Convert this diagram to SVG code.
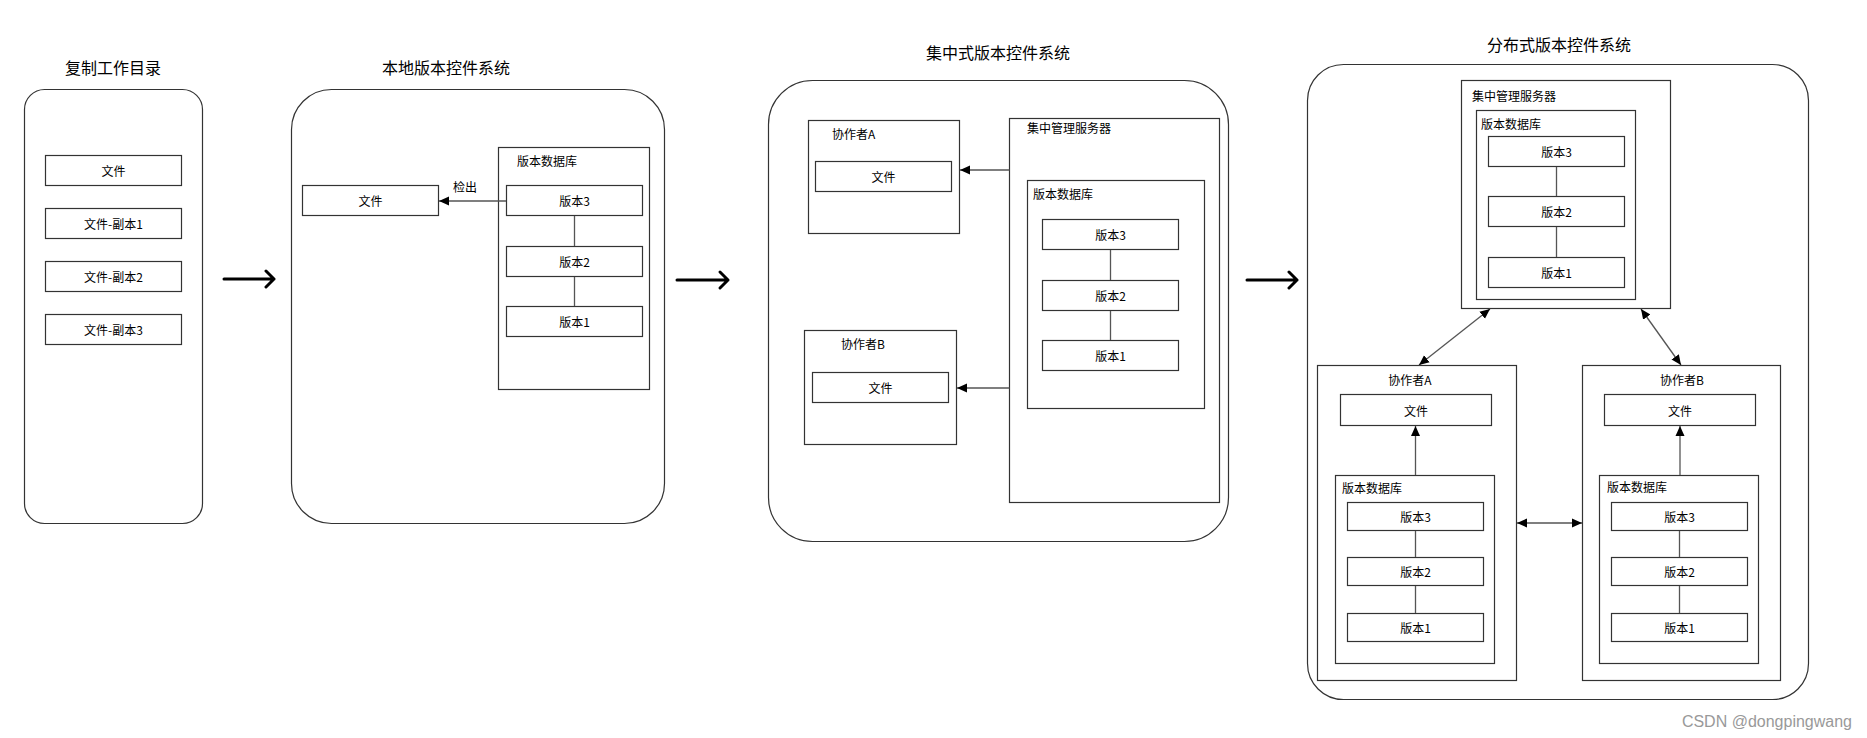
<svg xmlns="http://www.w3.org/2000/svg" width="1867" height="738" viewBox="0 0 1867 738">
<style>
text{font-family:"Noto Sans CJK SC","Liberation Sans",sans-serif;fill:#000}
.t{font-size:16px;text-anchor:middle;dominant-baseline:central}
.l{font-size:12px;text-anchor:middle;dominant-baseline:central}
.s{font-size:12px;dominant-baseline:central}
.panel{fill:#fff;stroke:#333;stroke-width:1.2}
.box{fill:#fff;stroke:#333;stroke-width:1.2}
.ln{stroke:#555;stroke-width:1.3;fill:none}
.big{stroke:#000;stroke-width:3;fill:none;stroke-linecap:round;stroke-linejoin:round}
</style>
<defs>
<marker id="ah" viewBox="0 0 10 10" refX="10" refY="5" markerWidth="10" markerHeight="10" markerUnits="userSpaceOnUse" orient="auto-start-reverse">
<path d="M0,0.5 L10,5 L0,9.5 Z" fill="#000"/>
</marker>
</defs>
<rect width="1867" height="738" fill="#fff"/>

<g id="panel1">
<text class="t" x="113" y="67">复制工作目录</text>
<rect class="panel" x="24.5" y="89.5" width="178" height="434" rx="20"/>
<g id="p1-file"><rect class="box" x="45.5" y="155.5" width="136" height="30"/><text class="l" x="113.5" y="170.5">文件</text></g>
<g id="p1-copy1"><rect class="box" x="45.5" y="208.5" width="136" height="30"/><text class="l" x="113.5" y="223.5">文件-副本1</text></g>
<g id="p1-copy2"><rect class="box" x="45.5" y="261.5" width="136" height="30"/><text class="l" x="113.5" y="276.5">文件-副本2</text></g>
<g id="p1-copy3"><rect class="box" x="45.5" y="314.5" width="136" height="30"/><text class="l" x="113.5" y="329.5">文件-副本3</text></g>
</g>

<g id="panel2">
<text class="t" x="446" y="67">本地版本控件系统</text>
<rect class="panel" x="291.5" y="89.5" width="373" height="434" rx="40"/>
<g id="p2-file"><rect class="box" x="302.5" y="185.5" width="136" height="30"/><text class="l" x="370.5" y="200.5">文件</text></g>
<g id="p2-db"><rect class="box" x="498.5" y="147.5" width="151" height="242"/><text class="s" x="517" y="160">版本数据库</text></g>
<g id="p2-v3"><rect class="box" x="506.5" y="185.5" width="136" height="30"/><text class="l" x="574.5" y="200.5">版本3</text></g>
<g id="p2-v2"><rect class="box" x="506.5" y="246.5" width="136" height="30"/><text class="l" x="574.5" y="261.5">版本2</text></g>
<g id="p2-v1"><rect class="box" x="506.5" y="306.5" width="136" height="30"/><text class="l" x="574.5" y="321.5">版本1</text></g>
</g>

<g id="panel3">
<text class="t" x="998" y="52">集中式版本控件系统</text>
<rect class="panel" x="768.5" y="80.5" width="460" height="461" rx="44"/>
<g id="p3-a"><rect class="box" x="808.5" y="120.5" width="151" height="113"/><text class="s" x="832" y="133">协作者A</text></g>
<g id="p3-a-file"><rect class="box" x="815.5" y="161.5" width="136" height="30"/><text class="l" x="883.5" y="176.5">文件</text></g>
<g id="p3-b"><rect class="box" x="804.5" y="330.5" width="152" height="114"/><text class="s" x="841" y="343">协作者B</text></g>
<g id="p3-b-file"><rect class="box" x="812.5" y="372.5" width="136" height="30"/><text class="l" x="880.5" y="387.5">文件</text></g>
<g id="p3-server"><rect class="box" x="1009.5" y="118.5" width="210" height="384"/><text class="s" x="1027" y="127">集中管理服务器</text></g>
<g id="p3-db"><rect class="box" x="1027.5" y="180.5" width="177" height="228"/><text class="s" x="1033" y="193">版本数据库</text></g>
<g id="p3-v3"><rect class="box" x="1042.5" y="219.5" width="136" height="30"/><text class="l" x="1110.5" y="234.5">版本3</text></g>
<g id="p3-v2"><rect class="box" x="1042.5" y="280.5" width="136" height="30"/><text class="l" x="1110.5" y="295.5">版本2</text></g>
<g id="p3-v1"><rect class="box" x="1042.5" y="340.5" width="136" height="30"/><text class="l" x="1110.5" y="355.5">版本1</text></g>
</g>

<g id="panel4">
<text class="t" x="1559" y="44">分布式版本控件系统</text>
<rect class="panel" x="1307.5" y="64.5" width="501" height="635" rx="36"/>
<g id="p4-server"><rect class="box" x="1461.5" y="80.5" width="209" height="228"/><text class="s" x="1472" y="95">集中管理服务器</text></g>
<g id="p4-db"><rect class="box" x="1476.5" y="110.5" width="159" height="189"/><text class="s" x="1481" y="123">版本数据库</text></g>
<g id="p4-v3"><rect class="box" x="1488.5" y="136.5" width="136" height="30"/><text class="l" x="1556.5" y="151.5">版本3</text></g>
<g id="p4-v2"><rect class="box" x="1488.5" y="196.5" width="136" height="30"/><text class="l" x="1556.5" y="211.5">版本2</text></g>
<g id="p4-v1"><rect class="box" x="1488.5" y="257.5" width="136" height="30"/><text class="l" x="1556.5" y="272.5">版本1</text></g>

<g id="p4-a"><rect class="box" x="1317.5" y="365.5" width="199" height="315"/><text class="l" x="1410" y="379">协作者A</text></g>
<g id="p4-a-file"><rect class="box" x="1340.5" y="394.5" width="151" height="31"/><text class="l" x="1416" y="410">文件</text></g>
<g id="p4-a-db"><rect class="box" x="1335.5" y="475.5" width="159" height="188"/><text class="s" x="1342" y="487">版本数据库</text></g>
<g id="p4-a-v3"><rect class="box" x="1347.5" y="502.5" width="136" height="28"/><text class="l" x="1415.5" y="516.5">版本3</text></g>
<g id="p4-a-v2"><rect class="box" x="1347.5" y="557.5" width="136" height="28"/><text class="l" x="1415.5" y="571.5">版本2</text></g>
<g id="p4-a-v1"><rect class="box" x="1347.5" y="613.5" width="136" height="28"/><text class="l" x="1415.5" y="627.5">版本1</text></g>

<g id="p4-b"><rect class="box" x="1582.5" y="365.5" width="198" height="315"/><text class="l" x="1682" y="379">协作者B</text></g>
<g id="p4-b-file"><rect class="box" x="1604.5" y="394.5" width="151" height="31"/><text class="l" x="1680" y="410">文件</text></g>
<g id="p4-b-db"><rect class="box" x="1599.5" y="475.5" width="159" height="188"/><text class="s" x="1607" y="486">版本数据库</text></g>
<g id="p4-b-v3"><rect class="box" x="1611.5" y="502.5" width="136" height="28"/><text class="l" x="1679.5" y="516.5">版本3</text></g>
<g id="p4-b-v2"><rect class="box" x="1611.5" y="557.5" width="136" height="28"/><text class="l" x="1679.5" y="571.5">版本2</text></g>
<g id="p4-b-v1"><rect class="box" x="1611.5" y="613.5" width="136" height="28"/><text class="l" x="1679.5" y="627.5">版本1</text></g>
</g>

<g id="connectors">
<path class="big" d="M224,279 H274 M266,271 L274,279 L266,287"/>
<path class="big" d="M677,280 H728 M720,272 L728,280 L720,288"/>
<path class="big" d="M1247,280 H1297 M1289,272 L1297,280 L1289,288"/>

<line class="ln" x1="506" y1="201" x2="439" y2="201" marker-end="url(#ah)"/>
<text class="s" x="453" y="186">检出</text>
<line class="ln" x1="574.5" y1="216" x2="574.5" y2="246"/>
<line class="ln" x1="574.5" y1="277" x2="574.5" y2="306"/>

<line class="ln" x1="1009.5" y1="170" x2="960" y2="170" marker-end="url(#ah)"/>
<line class="ln" x1="1009.5" y1="388" x2="957" y2="388" marker-end="url(#ah)"/>
<line class="ln" x1="1110.5" y1="250" x2="1110.5" y2="280"/>
<line class="ln" x1="1110.5" y1="311" x2="1110.5" y2="340"/>

<line class="ln" x1="1556.5" y1="167" x2="1556.5" y2="196"/>
<line class="ln" x1="1556.5" y1="227" x2="1556.5" y2="257"/>
<line class="ln" x1="1490" y1="309" x2="1419" y2="365" marker-start="url(#ah)" marker-end="url(#ah)"/>
<line class="ln" x1="1641" y1="309" x2="1681" y2="365" marker-start="url(#ah)" marker-end="url(#ah)"/>
<line class="ln" x1="1517" y1="523" x2="1582" y2="523" marker-start="url(#ah)" marker-end="url(#ah)"/>
<line class="ln" x1="1415.5" y1="475" x2="1415.5" y2="426" marker-end="url(#ah)"/>
<line class="ln" x1="1680" y1="475" x2="1680" y2="426" marker-end="url(#ah)"/>
<line class="ln" x1="1415.5" y1="531" x2="1415.5" y2="557"/>
<line class="ln" x1="1415.5" y1="586" x2="1415.5" y2="613"/>
<line class="ln" x1="1679.5" y1="531" x2="1679.5" y2="557"/>
<line class="ln" x1="1679.5" y1="586" x2="1679.5" y2="613"/>
</g>

<text x="1852" y="721" style="font-family:'Liberation Sans',sans-serif;font-size:16px;fill:#999;text-anchor:end;dominant-baseline:central">CSDN @dongpingwang</text>
</svg>
